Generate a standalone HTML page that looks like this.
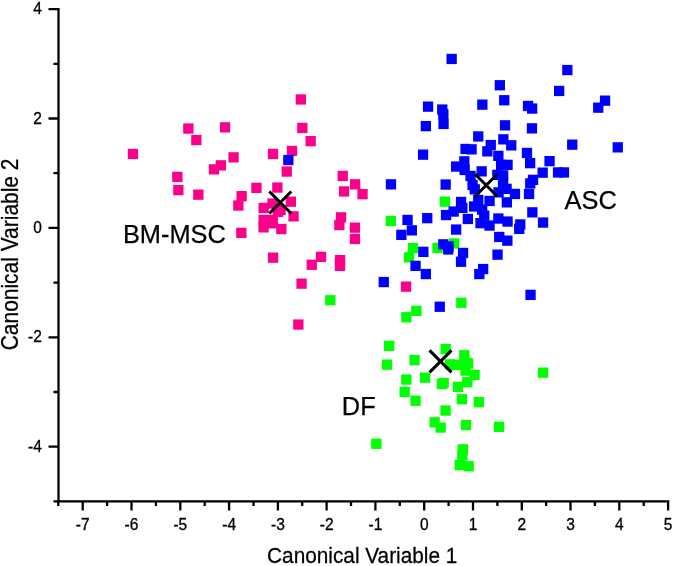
<!DOCTYPE html>
<html><head><meta charset="utf-8"><style>
html,body{margin:0;padding:0;background:#fff;width:675px;height:566px;overflow:hidden}
svg{display:block;will-change:transform}
text{font-family:"Liberation Sans",sans-serif}
</style></head><body><svg width="675" height="566" viewBox="0 0 675 566"><path d="M58.5,9.1 V501.4 H668.1" fill="none" stroke="#000" stroke-width="2.3" stroke-linecap="square"/><path d="M58.5,9.1 H48.5 M58.5,118.5 H48.5 M58.5,227.9 H48.5 M58.5,337.3 H48.5 M58.5,446.7 H48.5 M58.5,63.8 H53.5 M58.5,173.2 H53.5 M58.5,282.6 H53.5 M58.5,392.0 H53.5 M58.5,501.4 H53.5 M82.7,501.4 V510.6 M131.5,501.4 V510.6 M180.3,501.4 V510.6 M229.1,501.4 V510.6 M277.9,501.4 V510.6 M326.6,501.4 V510.6 M375.4,501.4 V510.6 M424.2,501.4 V510.6 M473.0,501.4 V510.6 M521.8,501.4 V510.6 M570.5,501.4 V510.6 M619.3,501.4 V510.6 M668.1,501.4 V510.6 M58.3,501.4 V505.9 M107.1,501.4 V505.9 M155.9,501.4 V505.9 M204.7,501.4 V505.9 M253.5,501.4 V505.9 M302.2,501.4 V505.9 M351.0,501.4 V505.9 M399.8,501.4 V505.9 M448.6,501.4 V505.9 M497.4,501.4 V505.9 M546.1,501.4 V505.9 M594.9,501.4 V505.9 M643.7,501.4 V505.9" fill="none" stroke="#000" stroke-width="2.3"/><g font-family="Liberation Sans, sans-serif" font-size="15.5" fill="#000" stroke="#000" stroke-width="0.3"><text transform="translate(82.7,530.4) scale(1,1.1)" text-anchor="middle">-7</text><text transform="translate(131.5,530.4) scale(1,1.1)" text-anchor="middle">-6</text><text transform="translate(180.3,530.4) scale(1,1.1)" text-anchor="middle">-5</text><text transform="translate(229.1,530.4) scale(1,1.1)" text-anchor="middle">-4</text><text transform="translate(277.9,530.4) scale(1,1.1)" text-anchor="middle">-3</text><text transform="translate(326.6,530.4) scale(1,1.1)" text-anchor="middle">-2</text><text transform="translate(375.4,530.4) scale(1,1.1)" text-anchor="middle">-1</text><text transform="translate(424.2,530.4) scale(1,1.1)" text-anchor="middle">0</text><text transform="translate(473.0,530.4) scale(1,1.1)" text-anchor="middle">1</text><text transform="translate(521.8,530.4) scale(1,1.1)" text-anchor="middle">2</text><text transform="translate(570.5,530.4) scale(1,1.1)" text-anchor="middle">3</text><text transform="translate(619.3,530.4) scale(1,1.1)" text-anchor="middle">4</text><text transform="translate(668.1,530.4) scale(1,1.1)" text-anchor="middle">5</text><text transform="translate(41.8,14.1) scale(1,1.1)" text-anchor="end">4</text><text transform="translate(41.8,123.5) scale(1,1.1)" text-anchor="end">2</text><text transform="translate(41.8,232.9) scale(1,1.1)" text-anchor="end">0</text><text transform="translate(41.8,342.3) scale(1,1.1)" text-anchor="end">-2</text><text transform="translate(41.8,451.7) scale(1,1.1)" text-anchor="end">-4</text></g><text transform="translate(362.2,563.4) scale(1,1.08)" text-anchor="middle" font-family="Liberation Sans, sans-serif" font-size="20.8" fill="#000" stroke="#000" stroke-width="0.25">Canonical Variable 1</text><text transform="translate(18.1,254.4) rotate(-90) scale(1,1.1)" text-anchor="middle" font-family="Liberation Sans, sans-serif" font-size="20.95" fill="#000" stroke="#000" stroke-width="0.25">Canonical Variable 2</text><g fill="#fc008c"><rect x="127.8" y="148.8" width="10.3" height="10.3"/><rect x="183.2" y="123.4" width="10.3" height="10.3"/><rect x="191.2" y="134.9" width="10.3" height="10.3"/><rect x="208.8" y="164.2" width="10.3" height="10.3"/><rect x="215.7" y="160.2" width="10.3" height="10.3"/><rect x="172.2" y="171.7" width="10.3" height="10.3"/><rect x="173.2" y="184.9" width="10.3" height="10.3"/><rect x="193.2" y="189.5" width="10.3" height="10.3"/><rect x="219.9" y="122.2" width="10.3" height="10.3"/><rect x="228.4" y="152.2" width="10.3" height="10.3"/><rect x="267.9" y="148.8" width="10.3" height="10.3"/><rect x="286.8" y="145.8" width="10.3" height="10.3"/><rect x="281.6" y="166.4" width="10.3" height="10.3"/><rect x="295.7" y="94.3" width="10.3" height="10.3"/><rect x="297.2" y="122.8" width="10.3" height="10.3"/><rect x="305.5" y="136.0" width="10.3" height="10.3"/><rect x="337.6" y="170.8" width="10.3" height="10.3"/><rect x="350.0" y="179.2" width="10.3" height="10.3"/><rect x="338.9" y="186.3" width="10.3" height="10.3"/><rect x="357.4" y="189.0" width="10.3" height="10.3"/><rect x="251.3" y="182.7" width="10.3" height="10.3"/><rect x="272.2" y="182.4" width="10.3" height="10.3"/><rect x="236.5" y="191.0" width="10.3" height="10.3"/><rect x="233.2" y="200.4" width="10.3" height="10.3"/><rect x="236.2" y="227.7" width="10.3" height="10.3"/><rect x="335.9" y="212.2" width="10.3" height="10.3"/><rect x="334.2" y="219.9" width="10.3" height="10.3"/><rect x="349.8" y="222.5" width="10.3" height="10.3"/><rect x="349.8" y="233.8" width="10.3" height="10.3"/><rect x="267.9" y="252.5" width="10.3" height="10.3"/><rect x="315.9" y="251.7" width="10.3" height="10.3"/><rect x="306.6" y="259.6" width="10.3" height="10.3"/><rect x="334.9" y="255.0" width="10.3" height="10.3"/><rect x="334.8" y="260.7" width="10.3" height="10.3"/><rect x="296.4" y="278.5" width="10.3" height="10.3"/><rect x="293.2" y="319.4" width="10.3" height="10.3"/><rect x="400.9" y="281.5" width="10.3" height="10.3"/><rect x="267.4" y="198.4" width="10.3" height="10.3"/><rect x="258.5" y="202.8" width="10.3" height="10.3"/><rect x="285.7" y="196.5" width="10.3" height="10.3"/><rect x="275.4" y="204.8" width="10.3" height="10.3"/><rect x="272.7" y="206.8" width="10.3" height="10.3"/><rect x="258.5" y="214.8" width="10.3" height="10.3"/><rect x="258.4" y="222.2" width="10.3" height="10.3"/><rect x="267.5" y="214.7" width="10.3" height="10.3"/><rect x="267.5" y="218.2" width="10.3" height="10.3"/><rect x="276.2" y="223.9" width="10.3" height="10.3"/><rect x="288.4" y="211.2" width="10.3" height="10.3"/></g><g fill="#00ff00"><rect x="325.2" y="295.1" width="10.3" height="10.3"/><rect x="439.7" y="196.5" width="10.3" height="10.3"/><rect x="385.7" y="215.8" width="10.3" height="10.3"/><rect x="407.8" y="242.9" width="10.3" height="10.3"/><rect x="403.9" y="252.2" width="10.3" height="10.3"/><rect x="432.4" y="242.8" width="10.3" height="10.3"/><rect x="448.9" y="238.3" width="10.3" height="10.3"/><rect x="411.2" y="305.7" width="10.3" height="10.3"/><rect x="401.2" y="312.1" width="10.3" height="10.3"/><rect x="456.2" y="297.6" width="10.3" height="10.3"/><rect x="537.9" y="367.5" width="10.3" height="10.3"/><rect x="384.0" y="340.7" width="10.3" height="10.3"/><rect x="381.9" y="359.5" width="10.3" height="10.3"/><rect x="409.4" y="355.0" width="10.3" height="10.3"/><rect x="401.2" y="374.4" width="10.3" height="10.3"/><rect x="420.0" y="372.5" width="10.3" height="10.3"/><rect x="399.5" y="386.8" width="10.3" height="10.3"/><rect x="410.4" y="395.6" width="10.3" height="10.3"/><rect x="440.5" y="343.9" width="10.3" height="10.3"/><rect x="459.2" y="350.1" width="10.3" height="10.3"/><rect x="462.2" y="358.2" width="10.3" height="10.3"/><rect x="462.9" y="358.2" width="10.3" height="10.3"/><rect x="452.5" y="359.7" width="10.3" height="10.3"/><rect x="444.9" y="359.2" width="10.3" height="10.3"/><rect x="447.9" y="359.9" width="10.3" height="10.3"/><rect x="460.4" y="365.5" width="10.3" height="10.3"/><rect x="469.4" y="369.8" width="10.3" height="10.3"/><rect x="462.2" y="377.1" width="10.3" height="10.3"/><rect x="452.9" y="381.7" width="10.3" height="10.3"/><rect x="436.7" y="378.8" width="10.3" height="10.3"/><rect x="438.5" y="377.9" width="10.3" height="10.3"/><rect x="456.7" y="394.1" width="10.3" height="10.3"/><rect x="473.7" y="397.0" width="10.3" height="10.3"/><rect x="440.4" y="405.4" width="10.3" height="10.3"/><rect x="429.5" y="417.2" width="10.3" height="10.3"/><rect x="435.5" y="422.4" width="10.3" height="10.3"/><rect x="460.9" y="419.9" width="10.3" height="10.3"/><rect x="493.9" y="421.7" width="10.3" height="10.3"/><rect x="457.7" y="444.2" width="10.3" height="10.3"/><rect x="457.2" y="450.0" width="10.3" height="10.3"/><rect x="454.6" y="460.0" width="10.3" height="10.3"/><rect x="463.5" y="461.1" width="10.3" height="10.3"/><rect x="371.2" y="438.7" width="10.3" height="10.3"/></g><g fill="#0000ff"><rect x="446.5" y="53.8" width="10.3" height="10.3"/><rect x="422.9" y="101.5" width="10.3" height="10.3"/><rect x="437.1" y="104.4" width="10.3" height="10.3"/><rect x="438.2" y="109.1" width="10.3" height="10.3"/><rect x="438.4" y="118.8" width="10.3" height="10.3"/><rect x="420.7" y="121.0" width="10.3" height="10.3"/><rect x="494.7" y="80.1" width="10.3" height="10.3"/><rect x="477.2" y="99.5" width="10.3" height="10.3"/><rect x="499.1" y="95.1" width="10.3" height="10.3"/><rect x="522.9" y="100.8" width="10.3" height="10.3"/><rect x="527.0" y="103.4" width="10.3" height="10.3"/><rect x="499.9" y="120.2" width="10.3" height="10.3"/><rect x="526.8" y="123.2" width="10.3" height="10.3"/><rect x="473.1" y="131.3" width="10.3" height="10.3"/><rect x="562.2" y="64.9" width="10.3" height="10.3"/><rect x="554.0" y="85.8" width="10.3" height="10.3"/><rect x="599.9" y="95.5" width="10.3" height="10.3"/><rect x="593.1" y="102.5" width="10.3" height="10.3"/><rect x="567.1" y="139.5" width="10.3" height="10.3"/><rect x="612.6" y="142.2" width="10.3" height="10.3"/><rect x="417.9" y="149.5" width="10.3" height="10.3"/><rect x="385.8" y="179.2" width="10.3" height="10.3"/><rect x="440.5" y="179.4" width="10.3" height="10.3"/><rect x="460.4" y="143.8" width="10.3" height="10.3"/><rect x="466.4" y="144.2" width="10.3" height="10.3"/><rect x="485.6" y="139.9" width="10.3" height="10.3"/><rect x="482.2" y="146.2" width="10.3" height="10.3"/><rect x="459.2" y="156.2" width="10.3" height="10.3"/><rect x="451.0" y="161.4" width="10.3" height="10.3"/><rect x="459.5" y="164.8" width="10.3" height="10.3"/><rect x="476.5" y="166.2" width="10.3" height="10.3"/><rect x="465.4" y="170.8" width="10.3" height="10.3"/><rect x="467.4" y="179.8" width="10.3" height="10.3"/><rect x="469.6" y="184.2" width="10.3" height="10.3"/><rect x="492.2" y="169.7" width="10.3" height="10.3"/><rect x="498.2" y="134.2" width="10.3" height="10.3"/><rect x="506.1" y="140.2" width="10.3" height="10.3"/><rect x="493.2" y="150.7" width="10.3" height="10.3"/><rect x="496.0" y="159.7" width="10.3" height="10.3"/><rect x="502.4" y="159.7" width="10.3" height="10.3"/><rect x="521.8" y="147.8" width="10.3" height="10.3"/><rect x="525.0" y="158.0" width="10.3" height="10.3"/><rect x="544.4" y="156.0" width="10.3" height="10.3"/><rect x="537.5" y="167.5" width="10.3" height="10.3"/><rect x="525.1" y="178.3" width="10.3" height="10.3"/><rect x="527.9" y="174.7" width="10.3" height="10.3"/><rect x="497.9" y="178.3" width="10.3" height="10.3"/><rect x="498.0" y="170.2" width="10.3" height="10.3"/><rect x="501.4" y="183.7" width="10.3" height="10.3"/><rect x="552.9" y="167.3" width="10.3" height="10.3"/><rect x="558.8" y="167.3" width="10.3" height="10.3"/><rect x="455.9" y="196.8" width="10.3" height="10.3"/><rect x="457.2" y="202.7" width="10.3" height="10.3"/><rect x="440.9" y="209.9" width="10.3" height="10.3"/><rect x="448.5" y="206.4" width="10.3" height="10.3"/><rect x="462.7" y="213.8" width="10.3" height="10.3"/><rect x="451.0" y="224.4" width="10.3" height="10.3"/><rect x="469.0" y="201.3" width="10.3" height="10.3"/><rect x="473.1" y="194.8" width="10.3" height="10.3"/><rect x="484.4" y="195.8" width="10.3" height="10.3"/><rect x="477.0" y="204.5" width="10.3" height="10.3"/><rect x="479.1" y="210.5" width="10.3" height="10.3"/><rect x="475.4" y="218.0" width="10.3" height="10.3"/><rect x="484.4" y="220.4" width="10.3" height="10.3"/><rect x="493.2" y="213.4" width="10.3" height="10.3"/><rect x="493.4" y="187.2" width="10.3" height="10.3"/><rect x="509.8" y="188.8" width="10.3" height="10.3"/><rect x="501.7" y="197.2" width="10.3" height="10.3"/><rect x="523.9" y="188.8" width="10.3" height="10.3"/><rect x="527.2" y="207.2" width="10.3" height="10.3"/><rect x="537.9" y="217.4" width="10.3" height="10.3"/><rect x="502.4" y="216.4" width="10.3" height="10.3"/><rect x="515.1" y="219.3" width="10.3" height="10.3"/><rect x="514.1" y="223.7" width="10.3" height="10.3"/><rect x="494.1" y="231.8" width="10.3" height="10.3"/><rect x="502.2" y="235.5" width="10.3" height="10.3"/><rect x="492.4" y="249.5" width="10.3" height="10.3"/><rect x="478.0" y="263.9" width="10.3" height="10.3"/><rect x="474.2" y="268.9" width="10.3" height="10.3"/><rect x="438.1" y="239.2" width="10.3" height="10.3"/><rect x="443.1" y="244.3" width="10.3" height="10.3"/><rect x="443.4" y="241.3" width="10.3" height="10.3"/><rect x="457.9" y="247.8" width="10.3" height="10.3"/><rect x="455.9" y="256.6" width="10.3" height="10.3"/><rect x="402.4" y="214.8" width="10.3" height="10.3"/><rect x="406.7" y="225.2" width="10.3" height="10.3"/><rect x="396.2" y="229.7" width="10.3" height="10.3"/><rect x="422.1" y="213.0" width="10.3" height="10.3"/><rect x="418.2" y="246.7" width="10.3" height="10.3"/><rect x="410.4" y="260.7" width="10.3" height="10.3"/><rect x="420.7" y="268.9" width="10.3" height="10.3"/><rect x="378.6" y="276.9" width="10.3" height="10.3"/><rect x="434.6" y="301.6" width="10.3" height="10.3"/><rect x="525.4" y="289.7" width="10.3" height="10.3"/><rect x="283.2" y="154.9" width="10.3" height="10.3"/></g><path d="M269.3,191.5 L291.3,213.5 M291.3,191.5 L269.3,213.5 M475.2,174.3 L497.2,196.3 M497.2,174.3 L475.2,196.3 M429.5,350.4 L451.5,372.4 M451.5,350.4 L429.5,372.4" stroke="#000" stroke-width="3" fill="none"/><g font-family="Liberation Sans, sans-serif" font-size="25.4" fill="#000" stroke="#000" stroke-width="0.25"><text x="122.9" y="243">BM-MSC</text><text x="564.6" y="208.6">ASC</text><text x="341.8" y="415.2">DF</text></g></svg></body></html>
